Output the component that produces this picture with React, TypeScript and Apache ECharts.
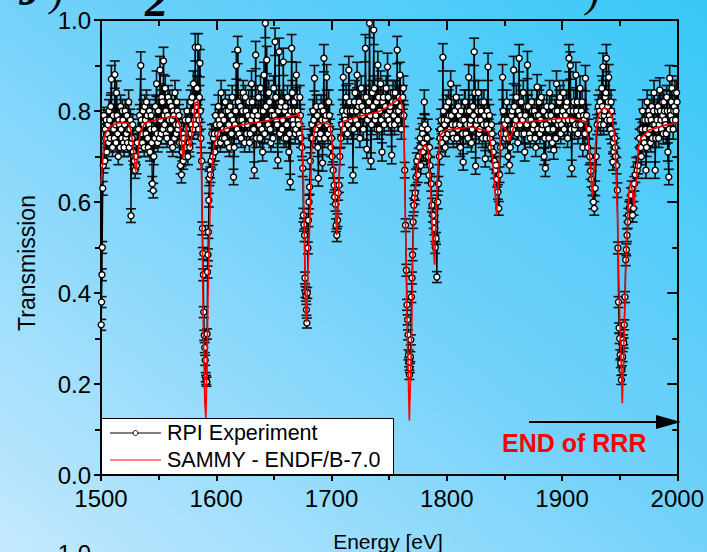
import React, { useEffect, useRef } from "react";
import * as echarts from "echarts";

// Measured transmission points: [energy (eV), transmission, uncertainty]
const expLowEdge: [number, number, number][] = [
  [1500.2, 0.33, 0.012], [1500.5, 0.38, 0.012], [1500.8, 0.44, 0.013], [1501.1, 0.5, 0.013],
  [1501.5, 0.63, 0.015], [1502.0, 0.68, 0.016], [1502.6, 0.79, 0.018], [1503.3, 0.69, 0.016],
  [1504.0, 0.74, 0.02], [1505.0, 0.71, 0.018], [1506.0, 0.77, 0.022], [1507.0, 0.8, 0.025],
  [1508.0, 0.74, 0.02], [1509.0, 0.87, 0.03], [1510.0, 0.72, 0.02], [1511.0, 0.76, 0.022],
  [1512.0, 0.88, 0.03], [1513.0, 0.73, 0.02], [1514.0, 0.79, 0.024], [1515.0, 0.7, 0.018],
  [1516.0, 0.77, 0.022], [1517.0, 0.81, 0.025], [1518.0, 0.74, 0.02], [1519.0, 0.78, 0.024],
  [1520.0, 0.72, 0.02], [1521.0, 0.8, 0.025], [1522.0, 0.75, 0.022], [1523.0, 0.73, 0.02],
  [1524.0, 0.82, 0.026], [1525.0, 0.76, 0.022], [1526.0, 0.57, 0.015], [1527.0, 0.74, 0.02],
  [1528.0, 0.71, 0.02], [1529.0, 0.69, 0.018], [1529.6, 0.67, 0.018], [1530.2, 0.7, 0.018],
  [1530.8, 0.68, 0.018], [1531.5, 0.73, 0.02], [1532.5, 0.76, 0.022], [1533.5, 0.79, 0.024],
  [1534.5, 0.9, 0.03],
  [1503.6, 0.76, 0.02], [1504.5, 0.78, 0.022], [1505.5, 0.75, 0.02], [1506.5, 0.73, 0.02],
  [1507.5, 0.78, 0.022], [1508.5, 0.81, 0.025], [1509.5, 0.76, 0.022], [1510.5, 0.79, 0.024],
  [1511.5, 0.74, 0.02], [1512.5, 0.77, 0.022], [1513.5, 0.84, 0.026], [1514.5, 0.75, 0.022],
  [1515.5, 0.78, 0.024], [1516.5, 0.72, 0.02], [1517.5, 0.76, 0.022], [1518.5, 0.8, 0.025],
  [1519.5, 0.73, 0.02], [1520.5, 0.77, 0.022], [1521.5, 0.74, 0.02], [1522.5, 0.79, 0.024],
  [1523.5, 0.76, 0.022], [1524.5, 0.72, 0.02], [1525.5, 0.78, 0.024], [1526.5, 0.73, 0.02],
  [1527.5, 0.77, 0.022], [1528.5, 0.7, 0.018],
];

const expBelow1590: [number, number, number][] = [
  [1535.5, 0.75, 0.022], [1536.5, 0.8, 0.025], [1537.5, 0.72, 0.02], [1538.5, 0.78, 0.024],
  [1539.5, 0.82, 0.026], [1540.5, 0.74, 0.02], [1541.5, 0.77, 0.022], [1542.5, 0.71, 0.02],
  [1543.5, 0.79, 0.024], [1544.5, 0.64, 0.016], [1545.3, 0.625, 0.016], [1546.2, 0.76, 0.022],
  [1547.2, 0.81, 0.025], [1548.2, 0.86, 0.028], [1549.2, 0.73, 0.02], [1550.2, 0.78, 0.024],
  [1551.2, 0.89, 0.03], [1552.2, 0.75, 0.022], [1553.2, 0.82, 0.026], [1554.2, 0.91, 0.03],
  [1555.2, 0.77, 0.022], [1556.2, 0.8, 0.025], [1557.2, 0.74, 0.02], [1558.2, 0.83, 0.026],
  [1559.2, 0.78, 0.024], [1560.2, 0.76, 0.022], [1561.2, 0.81, 0.025], [1562.2, 0.72, 0.02],
  [1563.2, 0.79, 0.024], [1564.2, 0.84, 0.027], [1565.2, 0.75, 0.022], [1566.2, 0.8, 0.025],
  [1567.2, 0.77, 0.022], [1568.2, 0.73, 0.02], [1569.0, 0.68, 0.018], [1569.8, 0.66, 0.018],
  [1570.6, 0.71, 0.02], [1571.4, 0.69, 0.018], [1572.2, 0.74, 0.02], [1573.0, 0.78, 0.024],
  [1573.8, 0.72, 0.02], [1574.6, 0.8, 0.025], [1575.4, 0.7, 0.018], [1576.2, 0.75, 0.022],
  [1577.0, 0.72, 0.02], [1577.8, 0.82, 0.026], [1578.6, 0.77, 0.022], [1579.4, 0.8, 0.025],
  [1580.2, 0.86, 0.028], [1581.0, 0.78, 0.024], [1581.8, 0.94, 0.03], [1582.6, 0.81, 0.025],
  [1583.4, 0.85, 0.027], [1584.2, 0.94, 0.03], [1585.0, 0.78, 0.024], [1585.8, 0.905, 0.03],
  [1586.6, 0.74, 0.02], [1587.3, 0.69, 0.018],
  [1535.0, 0.78, 0.024], [1536.0, 0.73, 0.02], [1537.0, 0.77, 0.022], [1538.0, 0.81, 0.025],
  [1539.0, 0.75, 0.022], [1540.0, 0.79, 0.024], [1541.0, 0.72, 0.02], [1542.0, 0.8, 0.025],
  [1543.0, 0.76, 0.022], [1544.0, 0.73, 0.02], [1545.8, 0.7, 0.018], [1546.7, 0.74, 0.02],
  [1547.7, 0.78, 0.024], [1548.7, 0.75, 0.022], [1549.7, 0.8, 0.025], [1550.7, 0.74, 0.02],
  [1551.7, 0.78, 0.024], [1552.7, 0.83, 0.026], [1553.7, 0.76, 0.022], [1554.7, 0.79, 0.024],
  [1555.7, 0.85, 0.027], [1556.7, 0.75, 0.022], [1557.7, 0.79, 0.024], [1558.7, 0.76, 0.022],
  [1559.7, 0.82, 0.026], [1560.7, 0.73, 0.02], [1561.7, 0.78, 0.024], [1562.7, 0.8, 0.025],
  [1563.7, 0.74, 0.02], [1564.7, 0.77, 0.022], [1565.7, 0.82, 0.026], [1566.7, 0.76, 0.022],
  [1567.7, 0.79, 0.024], [1570.2, 0.73, 0.02], [1571.8, 0.75, 0.022], [1572.6, 0.7, 0.018],
  [1574.2, 0.76, 0.022], [1575.8, 0.78, 0.024], [1576.6, 0.73, 0.02], [1578.2, 0.75, 0.022],
  [1579.0, 0.83, 0.026], [1579.8, 0.76, 0.022], [1580.6, 0.8, 0.025], [1582.2, 0.77, 0.022],
  [1583.0, 0.82, 0.026], [1583.8, 0.79, 0.024], [1584.6, 0.76, 0.022], [1585.4, 0.83, 0.026],
  [1586.2, 0.8, 0.025],
];

const exp1590Dip: [number, number, number][] = [
  [1588.0, 0.542, 0.014], [1588.4, 0.487, 0.013], [1588.8, 0.44, 0.013], [1589.2, 0.358, 0.012],
  [1589.6, 0.307, 0.011], [1590.0, 0.28, 0.011], [1590.4, 0.252, 0.011], [1590.8, 0.215, 0.01],
  [1591.2, 0.209, 0.01], [1591.6, 0.205, 0.01], [1592.0, 0.31, 0.011], [1592.4, 0.446, 0.013],
  [1592.8, 0.484, 0.013], [1593.2, 0.534, 0.014], [1593.6, 0.604, 0.015], [1594.0, 0.652, 0.016],
  [1594.5, 0.67, 0.017], [1595.0, 0.66, 0.017], [1595.6, 0.69, 0.018], [1596.2, 0.75, 0.02],
];

const expMid: [number, number, number][] = [
  [1597.0, 0.7, 0.018], [1598.2, 0.75, 0.022], [1599.4, 0.79, 0.024], [1600.6, 0.73, 0.02],
  [1601.8, 0.81, 0.025], [1603.0, 0.77, 0.022], [1604.2, 0.84, 0.027], [1605.4, 0.74, 0.02],
  [1606.6, 0.78, 0.024], [1607.8, 0.82, 0.026], [1609.0, 0.76, 0.022], [1610.2, 0.8, 0.025],
  [1611.4, 0.72, 0.02], [1612.6, 0.79, 0.024], [1613.8, 0.83, 0.026], [1615.0, 0.655, 0.017],
  [1616.2, 0.77, 0.022], [1617.4, 0.9, 0.03], [1618.6, 0.934, 0.03], [1619.8, 0.75, 0.022],
  [1621.0, 0.81, 0.025], [1622.2, 0.78, 0.024], [1623.4, 0.84, 0.027], [1624.6, 0.73, 0.02],
  [1625.8, 0.8, 0.025], [1627.0, 0.77, 0.022], [1628.2, 0.82, 0.026], [1629.4, 0.75, 0.022],
  [1630.6, 0.86, 0.028], [1631.8, 0.79, 0.024], [1633.0, 0.67, 0.018], [1634.2, 0.923, 0.03],
  [1635.4, 0.78, 0.024], [1636.6, 0.83, 0.026], [1637.8, 0.74, 0.02], [1639.0, 0.8, 0.025],
  [1640.2, 0.71, 0.02], [1641.4, 0.879, 0.028], [1642.6, 0.993, 0.032], [1643.8, 0.912, 0.03],
  [1645.0, 0.77, 0.022], [1646.2, 0.82, 0.026], [1647.4, 0.73, 0.02], [1648.6, 0.79, 0.024],
  [1649.8, 0.85, 0.027], [1651.0, 0.952, 0.03], [1652.2, 0.78, 0.024], [1653.4, 0.692, 0.018],
  [1654.6, 0.93, 0.03], [1655.8, 0.81, 0.025], [1657.0, 0.76, 0.022], [1658.2, 0.908, 0.03],
  [1659.4, 0.8, 0.025], [1660.6, 0.74, 0.02], [1661.8, 0.83, 0.026], [1663.0, 0.71, 0.02],
  [1664.2, 0.644, 0.017], [1665.4, 0.938, 0.03], [1666.5, 0.78, 0.024], [1667.5, 0.82, 0.026],
  [1668.5, 0.75, 0.022], [1669.5, 0.879, 0.028], [1670.5, 0.8, 0.025], [1671.5, 0.77, 0.022],
  [1672.5, 0.83, 0.026], [1673.5, 0.74, 0.02], [1674.3, 0.72, 0.02], [1675.0, 0.674, 0.018],
  [1597.6, 0.74, 0.02], [1598.8, 0.71, 0.02], [1600.0, 0.77, 0.022], [1601.2, 0.75, 0.022],
  [1602.4, 0.78, 0.024], [1603.6, 0.73, 0.02], [1604.8, 0.79, 0.024], [1606.0, 0.76, 0.022],
  [1607.2, 0.74, 0.02], [1608.4, 0.8, 0.025], [1609.6, 0.73, 0.02], [1610.8, 0.77, 0.022],
  [1612.0, 0.81, 0.025], [1613.2, 0.75, 0.022], [1614.4, 0.78, 0.024], [1615.6, 0.72, 0.02],
  [1616.8, 0.8, 0.025], [1618.0, 0.76, 0.022], [1619.2, 0.82, 0.026], [1620.4, 0.78, 0.024],
  [1621.6, 0.74, 0.02], [1622.8, 0.8, 0.025], [1624.0, 0.77, 0.022], [1625.2, 0.83, 0.026],
  [1626.4, 0.75, 0.022], [1627.6, 0.79, 0.024], [1628.8, 0.73, 0.02], [1630.0, 0.78, 0.024],
  [1631.2, 0.82, 0.026], [1632.4, 0.76, 0.022], [1633.6, 0.8, 0.025], [1634.8, 0.74, 0.02],
  [1636.0, 0.79, 0.024], [1637.2, 0.77, 0.022], [1638.4, 0.85, 0.027], [1639.6, 0.76, 0.022],
  [1640.8, 0.8, 0.025], [1642.0, 0.75, 0.022], [1643.2, 0.81, 0.025], [1644.4, 0.78, 0.024],
  [1645.6, 0.84, 0.027], [1646.8, 0.76, 0.022], [1648.0, 0.8, 0.025], [1649.2, 0.74, 0.02],
  [1650.4, 0.79, 0.024], [1651.6, 0.83, 0.026], [1652.8, 0.77, 0.022], [1654.0, 0.8, 0.025],
  [1655.2, 0.75, 0.022], [1656.4, 0.82, 0.026], [1657.6, 0.78, 0.024], [1658.8, 0.74, 0.02],
  [1660.0, 0.81, 0.025], [1661.2, 0.77, 0.022], [1662.4, 0.79, 0.024], [1663.6, 0.75, 0.022],
  [1664.8, 0.8, 0.025], [1666.0, 0.84, 0.027], [1667.0, 0.77, 0.022], [1668.0, 0.8, 0.025],
  [1669.0, 0.76, 0.022], [1670.0, 0.83, 0.026], [1671.0, 0.78, 0.024], [1672.0, 0.75, 0.022],
  [1673.0, 0.79, 0.024],
];

const exp1678Dip: [number, number, number][] = [
  [1675.6, 0.571, 0.015], [1676.1, 0.55, 0.014], [1676.6, 0.527, 0.014], [1677.0, 0.433, 0.013],
  [1677.4, 0.402, 0.012], [1677.8, 0.394, 0.012], [1678.2, 0.363, 0.012], [1678.6, 0.334, 0.011],
  [1679.0, 0.4, 0.012], [1679.5, 0.499, 0.013], [1680.0, 0.56, 0.014], [1680.5, 0.6, 0.015],
  [1681.0, 0.633, 0.016], [1681.6, 0.69, 0.018], [1682.2, 0.74, 0.02], [1683.0, 0.77, 0.022],
  [1684.0, 0.8, 0.025], [1685.2, 0.872, 0.028], [1686.4, 0.76, 0.022], [1687.6, 0.79, 0.024],
  [1688.6, 0.652, 0.017], [1689.8, 0.74, 0.02], [1691.0, 0.81, 0.025], [1692.2, 0.686, 0.018],
  [1693.4, 0.916, 0.03], [1694.6, 0.78, 0.024], [1695.8, 0.874, 0.028], [1697.0, 0.75, 0.022],
  [1698.2, 0.79, 0.024], [1699.4, 0.72, 0.02], [1700.5, 0.7, 0.018], [1701.4, 0.67, 0.018],
  [1702.2, 0.637, 0.016], [1702.8, 0.611, 0.016], [1703.4, 0.595, 0.015], [1704.0, 0.549, 0.014],
  [1704.6, 0.527, 0.014], [1705.2, 0.56, 0.014], [1705.8, 0.62, 0.016], [1706.5, 0.637, 0.016],
  [1707.2, 0.7, 0.018], [1708.0, 0.74, 0.02],
  [1683.5, 0.74, 0.02], [1684.6, 0.78, 0.024], [1685.8, 0.75, 0.022], [1687.0, 0.81, 0.025],
  [1688.1, 0.72, 0.02], [1689.2, 0.77, 0.022], [1690.4, 0.75, 0.022], [1691.6, 0.78, 0.024],
  [1692.8, 0.8, 0.025], [1694.0, 0.74, 0.02], [1695.2, 0.79, 0.024], [1696.4, 0.77, 0.022],
  [1697.6, 0.82, 0.026], [1698.8, 0.76, 0.022], [1700.0, 0.74, 0.02],
];

const expBelow1767: [number, number, number][] = [
  [1709.0, 0.77, 0.022], [1710.2, 0.874, 0.028], [1711.4, 0.79, 0.024], [1712.6, 0.83, 0.026],
  [1713.8, 0.75, 0.022], [1715.0, 0.89, 0.03], [1716.2, 0.8, 0.025], [1717.4, 0.76, 0.022],
  [1718.6, 0.659, 0.017], [1719.8, 0.82, 0.026], [1721.0, 0.78, 0.024], [1722.2, 0.879, 0.028],
  [1723.4, 0.81, 0.025], [1724.6, 0.74, 0.02], [1725.8, 0.85, 0.027], [1727.0, 0.79, 0.024],
  [1728.2, 0.83, 0.026], [1729.4, 0.938, 0.03], [1730.6, 0.716, 0.02], [1731.8, 0.8, 0.025],
  [1733.0, 0.993, 0.032], [1734.2, 0.69, 0.018], [1735.4, 0.84, 0.027], [1736.6, 0.978, 0.032],
  [1737.8, 0.78, 0.024], [1739.0, 0.82, 0.026], [1740.2, 0.901, 0.03], [1741.4, 0.76, 0.022],
  [1742.6, 0.86, 0.028], [1743.8, 0.71, 0.02], [1745.0, 0.83, 0.026], [1746.2, 0.79, 0.024],
  [1747.4, 0.85, 0.027], [1748.6, 0.897, 0.03], [1749.8, 0.78, 0.024], [1751.0, 0.81, 0.025],
  [1752.2, 0.703, 0.019], [1753.4, 0.84, 0.027], [1754.6, 0.77, 0.022], [1755.8, 0.82, 0.026],
  [1757.0, 0.934, 0.03], [1758.2, 0.8, 0.025], [1759.4, 0.879, 0.028], [1760.6, 0.76, 0.022],
  [1761.8, 0.83, 0.026], [1762.8, 0.79, 0.024],
  [1709.6, 0.8, 0.025], [1710.8, 0.76, 0.022], [1712.0, 0.78, 0.024], [1713.2, 0.8, 0.025],
  [1714.4, 0.77, 0.022], [1715.6, 0.82, 0.026], [1716.8, 0.78, 0.024], [1718.0, 0.8, 0.025],
  [1719.2, 0.76, 0.022], [1720.4, 0.84, 0.027], [1721.6, 0.8, 0.025], [1722.8, 0.77, 0.022],
  [1724.0, 0.82, 0.026], [1725.2, 0.79, 0.024], [1726.4, 0.81, 0.025], [1727.6, 0.76, 0.022],
  [1728.8, 0.8, 0.025], [1730.0, 0.83, 0.026], [1731.2, 0.78, 0.024], [1732.4, 0.82, 0.026],
  [1733.6, 0.79, 0.024], [1734.8, 0.77, 0.022], [1736.0, 0.81, 0.025], [1737.2, 0.85, 0.027],
  [1738.4, 0.79, 0.024], [1739.6, 0.76, 0.022], [1740.8, 0.83, 0.026], [1742.0, 0.8, 0.025],
  [1743.2, 0.78, 0.024], [1744.4, 0.82, 0.026], [1745.6, 0.77, 0.022], [1746.8, 0.81, 0.025],
  [1748.0, 0.79, 0.024], [1749.2, 0.83, 0.026], [1750.4, 0.8, 0.025], [1751.6, 0.77, 0.022],
  [1752.8, 0.82, 0.026], [1754.0, 0.79, 0.024], [1755.2, 0.84, 0.027], [1756.4, 0.8, 0.025],
  [1757.6, 0.78, 0.024], [1758.8, 0.83, 0.026], [1760.0, 0.81, 0.025], [1761.2, 0.79, 0.024],
  [1762.4, 0.85, 0.027],
];

const exp1767Dip: [number, number, number][] = [
  [1763.5, 0.67, 0.017], [1764.2, 0.549, 0.014], [1764.9, 0.45, 0.013], [1765.5, 0.374, 0.012],
  [1766.0, 0.341, 0.011], [1766.4, 0.308, 0.011], [1766.8, 0.264, 0.011], [1767.2, 0.248, 0.01],
  [1767.6, 0.22, 0.01], [1768.0, 0.235, 0.01], [1768.4, 0.26, 0.011], [1768.8, 0.297, 0.011],
  [1769.3, 0.391, 0.012], [1769.8, 0.433, 0.013], [1770.3, 0.484, 0.013], [1770.8, 0.556, 0.014],
  [1771.4, 0.593, 0.015], [1772.0, 0.61, 0.015], [1772.6, 0.62, 0.016], [1773.3, 0.655, 0.017],
  [1774.0, 0.69, 0.018], [1774.8, 0.66, 0.017], [1775.6, 0.7, 0.018], [1776.5, 0.72, 0.02],
  [1777.5, 0.68, 0.018], [1778.5, 0.762, 0.022], [1779.5, 0.71, 0.02], [1780.5, 0.82, 0.026],
  [1781.5, 0.74, 0.02], [1782.5, 0.7, 0.018], [1783.5, 0.76, 0.022], [1784.5, 0.659, 0.017],
  [1785.5, 0.68, 0.018], [1786.5, 0.64, 0.016], [1787.2, 0.593, 0.015], [1787.9, 0.571, 0.015],
  [1788.6, 0.556, 0.014], [1789.3, 0.542, 0.014], [1790.0, 0.5, 0.013], [1790.7, 0.52, 0.013],
  [1791.4, 0.435, 0.012], [1792.1, 0.6, 0.015], [1792.8, 0.64, 0.016],
  [1777.0, 0.74, 0.02], [1778.0, 0.71, 0.02], [1779.0, 0.75, 0.022], [1780.0, 0.73, 0.02],
  [1781.0, 0.77, 0.022], [1782.0, 0.72, 0.02], [1783.0, 0.74, 0.02], [1784.0, 0.7, 0.018],
  [1785.0, 0.72, 0.02],
];

const expBelow1843: [number, number, number][] = [
  [1793.6, 0.7, 0.018], [1794.6, 0.76, 0.022], [1795.6, 0.73, 0.02], [1796.6, 0.918, 0.03],
  [1797.6, 0.78, 0.024], [1798.6, 0.72, 0.02], [1799.8, 0.81, 0.025], [1801.0, 0.75, 0.022],
  [1802.2, 0.79, 0.024], [1803.4, 0.86, 0.028], [1804.6, 0.77, 0.022], [1805.8, 0.74, 0.02],
  [1807.0, 0.8, 0.025], [1808.2, 0.83, 0.026], [1809.4, 0.76, 0.022], [1810.6, 0.79, 0.024],
  [1811.8, 0.72, 0.02], [1813.0, 0.78, 0.024], [1814.2, 0.688, 0.018], [1815.4, 0.82, 0.026],
  [1816.6, 0.75, 0.022], [1817.8, 0.8, 0.025], [1819.0, 0.874, 0.028], [1820.2, 0.77, 0.022],
  [1821.4, 0.73, 0.02], [1822.6, 0.81, 0.025], [1823.8, 0.93, 0.03], [1825.0, 0.679, 0.018],
  [1826.2, 0.78, 0.024], [1827.4, 0.84, 0.027], [1828.6, 0.76, 0.022], [1829.8, 0.8, 0.025],
  [1831.0, 0.74, 0.02], [1832.2, 0.82, 0.026], [1833.4, 0.695, 0.018], [1834.6, 0.77, 0.022],
  [1835.8, 0.897, 0.03], [1837.0, 0.79, 0.024], [1838.2, 0.72, 0.02], [1839.4, 0.75, 0.022],
  [1840.4, 0.71, 0.02], [1841.2, 0.69, 0.018], [1842.0, 0.67, 0.018], [1842.8, 0.681, 0.018],
  [1843.6, 0.65, 0.017], [1844.4, 0.622, 0.016], [1845.1, 0.586, 0.015], [1845.8, 0.66, 0.017],
  [1846.6, 0.72, 0.02], [1847.4, 0.75, 0.022],
  [1794.1, 0.74, 0.02], [1795.1, 0.78, 0.024], [1796.1, 0.75, 0.022], [1797.1, 0.8, 0.025],
  [1798.1, 0.77, 0.022], [1799.2, 0.74, 0.02], [1800.4, 0.78, 0.024], [1801.6, 0.82, 0.026],
  [1802.8, 0.76, 0.022], [1804.0, 0.79, 0.024], [1805.2, 0.75, 0.022], [1806.4, 0.8, 0.025],
  [1807.6, 0.77, 0.022], [1808.8, 0.74, 0.02], [1810.0, 0.81, 0.025], [1811.2, 0.77, 0.022],
  [1812.4, 0.8, 0.025], [1813.6, 0.75, 0.022], [1814.8, 0.78, 0.024], [1816.0, 0.82, 0.026],
  [1817.2, 0.77, 0.022], [1818.4, 0.74, 0.02], [1819.6, 0.8, 0.025], [1820.8, 0.78, 0.024],
  [1822.0, 0.76, 0.022], [1823.2, 0.79, 0.024], [1824.4, 0.84, 0.027], [1825.6, 0.77, 0.022],
  [1826.8, 0.8, 0.025], [1828.0, 0.75, 0.022], [1829.2, 0.78, 0.024], [1830.4, 0.82, 0.026],
  [1831.6, 0.77, 0.022], [1832.8, 0.79, 0.024], [1834.0, 0.74, 0.02], [1835.2, 0.8, 0.025],
  [1836.4, 0.76, 0.022], [1837.6, 0.74, 0.02], [1838.8, 0.77, 0.022], [1839.9, 0.73, 0.02],
];

const expUpper: [number, number, number][] = [
  [1848.4, 0.874, 0.028], [1849.6, 0.78, 0.024], [1850.8, 0.74, 0.02], [1852.0, 0.82, 0.026],
  [1853.2, 0.7, 0.018], [1854.4, 0.681, 0.018], [1855.6, 0.76, 0.022], [1856.8, 0.8, 0.025],
  [1858.0, 0.89, 0.03], [1859.2, 0.77, 0.022], [1860.4, 0.83, 0.026], [1861.6, 0.73, 0.02],
  [1862.8, 0.916, 0.03], [1864.0, 0.79, 0.024], [1865.2, 0.75, 0.022], [1866.4, 0.84, 0.027],
  [1867.6, 0.71, 0.02], [1868.8, 0.81, 0.025], [1870.0, 0.901, 0.03], [1871.2, 0.78, 0.024],
  [1872.4, 0.74, 0.02], [1873.6, 0.82, 0.026], [1874.8, 0.76, 0.022], [1876.0, 0.8, 0.025],
  [1877.2, 0.72, 0.02], [1878.4, 0.853, 0.027], [1879.6, 0.79, 0.024], [1880.8, 0.75, 0.022],
  [1882.0, 0.83, 0.026], [1883.2, 0.77, 0.022], [1884.4, 0.7, 0.018], [1885.6, 0.674, 0.018],
  [1886.8, 0.81, 0.025], [1888.0, 0.76, 0.022], [1889.2, 0.84, 0.027], [1890.4, 0.79, 0.024],
  [1891.6, 0.73, 0.02], [1892.8, 0.714, 0.02], [1894.0, 0.8, 0.025], [1895.2, 0.86, 0.028],
  [1896.4, 0.77, 0.022], [1897.6, 0.82, 0.026], [1898.8, 0.75, 0.022], [1900.0, 0.79, 0.024],
  [1901.2, 0.84, 0.027], [1902.4, 0.78, 0.024], [1903.6, 0.81, 0.025], [1904.8, 0.74, 0.02],
  [1906.0, 0.916, 0.03], [1907.2, 0.9, 0.03], [1908.4, 0.674, 0.018], [1909.6, 0.8, 0.025],
  [1910.8, 0.76, 0.022], [1912.0, 0.879, 0.028], [1913.2, 0.82, 0.026], [1914.4, 0.77, 0.022],
  [1915.6, 0.85, 0.027], [1916.8, 0.8, 0.025], [1918.0, 0.72, 0.02], [1919.2, 0.78, 0.024],
  [1920.3, 0.872, 0.028], [1921.3, 0.79, 0.024], [1922.3, 0.72, 0.02], [1923.2, 0.76, 0.022],
  [1924.0, 0.7, 0.018], [1924.8, 0.668, 0.018], [1925.6, 0.65, 0.017], [1926.4, 0.63, 0.016],
  [1927.2, 0.6, 0.015], [1928.0, 0.586, 0.015], [1928.8, 0.63, 0.016], [1929.6, 0.7, 0.018],
  [1930.5, 0.77, 0.022], [1931.5, 0.81, 0.025], [1932.5, 0.8, 0.025], [1933.5, 0.77, 0.022],
  [1934.5, 0.85, 0.027], [1935.5, 0.897, 0.03], [1936.5, 0.79, 0.024], [1937.5, 0.83, 0.026],
  [1938.5, 0.916, 0.03], [1939.5, 0.81, 0.025], [1940.5, 0.874, 0.028], [1941.5, 0.78, 0.024],
  [1942.5, 0.82, 0.026], [1943.3, 0.75, 0.022], [1944.1, 0.688, 0.018], [1944.9, 0.71, 0.02],
  [1945.7, 0.74, 0.02], [1946.5, 0.7, 0.018], [1947.3, 0.68, 0.018],
  [1849.0, 0.8, 0.025], [1850.2, 0.77, 0.022], [1851.4, 0.75, 0.022], [1852.6, 0.78, 0.024],
  [1853.8, 0.74, 0.02], [1855.0, 0.72, 0.02], [1856.2, 0.79, 0.024], [1857.4, 0.76, 0.022],
  [1858.6, 0.81, 0.025], [1859.8, 0.78, 0.024], [1861.0, 0.75, 0.022], [1862.2, 0.8, 0.025],
  [1863.4, 0.77, 0.022], [1864.6, 0.82, 0.026], [1865.8, 0.78, 0.024], [1867.0, 0.75, 0.022],
  [1868.2, 0.79, 0.024], [1869.4, 0.77, 0.022], [1870.6, 0.81, 0.025], [1871.8, 0.75, 0.022],
  [1873.0, 0.78, 0.024], [1874.2, 0.8, 0.025], [1875.4, 0.77, 0.022], [1876.6, 0.74, 0.02],
  [1877.8, 0.79, 0.024], [1879.0, 0.76, 0.022], [1880.2, 0.82, 0.026], [1881.4, 0.78, 0.024],
  [1882.6, 0.76, 0.022], [1883.8, 0.8, 0.025], [1885.0, 0.74, 0.02], [1886.2, 0.77, 0.022],
  [1887.4, 0.79, 0.024], [1888.6, 0.74, 0.02], [1889.8, 0.78, 0.024], [1891.0, 0.81, 0.025],
  [1892.2, 0.76, 0.022], [1893.4, 0.78, 0.024], [1894.6, 0.74, 0.02], [1895.8, 0.8, 0.025],
  [1897.0, 0.78, 0.024], [1898.2, 0.83, 0.026], [1899.4, 0.77, 0.022], [1900.6, 0.8, 0.025],
  [1901.8, 0.76, 0.022], [1903.0, 0.79, 0.024], [1904.2, 0.82, 0.026], [1905.4, 0.78, 0.024],
  [1906.6, 0.8, 0.025], [1907.8, 0.76, 0.022], [1909.0, 0.78, 0.024], [1910.2, 0.82, 0.026],
  [1911.4, 0.77, 0.022], [1912.6, 0.8, 0.025], [1913.8, 0.75, 0.022], [1915.0, 0.79, 0.024],
  [1916.2, 0.77, 0.022], [1917.4, 0.82, 0.026], [1918.6, 0.79, 0.024], [1919.8, 0.75, 0.022],
  [1932.0, 0.78, 0.024], [1933.0, 0.82, 0.026], [1934.0, 0.79, 0.024], [1935.0, 0.81, 0.025],
  [1936.0, 0.77, 0.022], [1937.0, 0.8, 0.025], [1938.0, 0.84, 0.027], [1939.0, 0.78, 0.024],
  [1940.0, 0.82, 0.026], [1941.0, 0.79, 0.024], [1942.0, 0.76, 0.022], [1943.0, 0.8, 0.025],
  [1944.5, 0.73, 0.02], [1946.1, 0.72, 0.02],
];

const exp1952Dip: [number, number, number][] = [
  [1948.0, 0.626, 0.016], [1948.5, 0.499, 0.013], [1949.0, 0.38, 0.012], [1949.5, 0.323, 0.011],
  [1950.0, 0.3, 0.011], [1950.5, 0.264, 0.011], [1951.0, 0.246, 0.01], [1951.5, 0.209, 0.01],
  [1952.0, 0.23, 0.01], [1952.5, 0.26, 0.011], [1953.0, 0.297, 0.011], [1953.5, 0.29, 0.011],
  [1954.0, 0.33, 0.011], [1954.6, 0.391, 0.012], [1955.2, 0.473, 0.013], [1955.8, 0.495, 0.013],
  [1956.4, 0.527, 0.014], [1957.0, 0.556, 0.014], [1957.6, 0.571, 0.015], [1958.3, 0.586, 0.015],
  [1959.0, 0.59, 0.015], [1959.7, 0.615, 0.016], [1960.4, 0.63, 0.016], [1961.2, 0.571, 0.015],
  [1962.0, 0.586, 0.015], [1962.8, 0.64, 0.016], [1963.6, 0.66, 0.017], [1964.4, 0.68, 0.018],
  [1965.2, 0.67, 0.018], [1966.0, 0.68, 0.018],
];

const expHighEdge: [number, number, number][] = [
  [1966.8, 0.72, 0.02], [1967.8, 0.76, 0.022], [1968.8, 0.7, 0.018], [1969.8, 0.8, 0.025],
  [1970.8, 0.74, 0.02], [1971.8, 0.78, 0.024], [1972.8, 0.67, 0.018], [1973.8, 0.82, 0.026],
  [1974.8, 0.75, 0.022], [1975.8, 0.79, 0.024], [1976.8, 0.73, 0.02], [1977.8, 0.81, 0.025],
  [1978.8, 0.77, 0.022], [1979.8, 0.84, 0.027], [1980.8, 0.67, 0.018], [1981.8, 0.76, 0.022],
  [1982.8, 0.8, 0.025], [1983.8, 0.74, 0.02], [1984.8, 0.846, 0.027], [1985.8, 0.78, 0.024],
  [1986.8, 0.82, 0.026], [1987.8, 0.75, 0.022], [1988.8, 0.8, 0.025], [1989.8, 0.77, 0.022],
  [1990.8, 0.83, 0.026], [1991.8, 0.71, 0.02], [1992.6, 0.655, 0.017], [1993.4, 0.872, 0.028],
  [1994.4, 0.79, 0.024], [1995.4, 0.85, 0.027], [1996.4, 0.76, 0.022], [1997.4, 0.81, 0.025],
  [1998.4, 0.78, 0.024], [1999.4, 0.84, 0.027],
  [1967.3, 0.74, 0.02], [1968.3, 0.72, 0.02], [1969.3, 0.76, 0.022], [1970.3, 0.78, 0.024],
  [1971.3, 0.73, 0.02], [1972.3, 0.76, 0.022], [1973.3, 0.72, 0.02], [1974.3, 0.78, 0.024],
  [1975.3, 0.8, 0.025], [1976.3, 0.76, 0.022], [1977.3, 0.78, 0.024], [1978.3, 0.74, 0.02],
  [1979.3, 0.8, 0.025], [1980.3, 0.77, 0.022], [1981.3, 0.74, 0.02], [1982.3, 0.78, 0.024],
  [1983.3, 0.81, 0.025], [1984.3, 0.77, 0.022], [1985.3, 0.8, 0.025], [1986.3, 0.76, 0.022],
  [1987.3, 0.79, 0.024], [1988.3, 0.82, 0.026], [1989.3, 0.78, 0.024], [1990.3, 0.75, 0.022],
  [1991.3, 0.8, 0.025], [1993.0, 0.76, 0.022], [1993.9, 0.8, 0.025], [1994.9, 0.82, 0.026],
  [1995.9, 0.78, 0.024], [1996.9, 0.8, 0.025], [1997.9, 0.84, 0.027], [1998.9, 0.8, 0.025],
  [1999.8, 0.82, 0.026],
];

// SAMMY fit with ENDF/B-7.0 resonance parameters: [energy (eV), transmission]
const sammyFit: [number, number][] = [
  [1500, 0.64], [1503.2, 0.747], [1507.5, 0.765], [1514.7, 0.774], [1523.4, 0.774], [1526, 0.758],
  [1528, 0.72], [1529.2, 0.689], [1530.1, 0.667], [1531.5, 0.69], [1533.5, 0.747], [1537.9, 0.774],
  [1555.2, 0.785], [1565, 0.788], [1568.2, 0.769], [1570, 0.73], [1571.1, 0.697], [1572.5, 0.72],
  [1573.9, 0.77], [1576, 0.733], [1577.7, 0.72], [1579.7, 0.77], [1581.7, 0.817], [1584, 0.822],
  [1585.8, 0.77], [1587.3, 0.645], [1588.6, 0.35], [1590.1, 0.16], [1591, 0.125], [1592, 0.25],
  [1593, 0.42], [1594.5, 0.571], [1595.7, 0.66], [1598, 0.725], [1602, 0.755], [1612, 0.765],
  [1625, 0.771], [1638, 0.776], [1651, 0.782], [1664, 0.788], [1669.8, 0.791], [1671.3, 0.796],
  [1674.2, 0.77], [1675.6, 0.645], [1677.6, 0.35], [1678.5, 0.336], [1679.5, 0.45], [1681.4, 0.57],
  [1682.8, 0.72], [1685.7, 0.762], [1688.6, 0.771], [1694.4, 0.774], [1698.7, 0.769], [1700.2, 0.74],
  [1702.5, 0.645], [1704.5, 0.527], [1706.5, 0.645], [1708.2, 0.747], [1710.3, 0.777], [1723.3, 0.788],
  [1740.6, 0.798], [1749.3, 0.81], [1755, 0.82], [1759.7, 0.831], [1762.6, 0.791], [1764.1, 0.571],
  [1765.4, 0.352], [1767.5, 0.12], [1769.3, 0.28], [1771.2, 0.571], [1774.1, 0.674], [1778.4, 0.718],
  [1781.4, 0.725], [1783.6, 0.718], [1785.7, 0.645], [1787.9, 0.512], [1789.4, 0.462], [1790.6, 0.571],
  [1792.3, 0.681], [1794.4, 0.747], [1798.7, 0.758], [1821.8, 0.765], [1836.5, 0.755], [1839.5, 0.703],
  [1841.7, 0.63], [1843.2, 0.571], [1844.7, 0.645], [1846.1, 0.718], [1847.5, 0.769], [1849.5, 0.765],
  [1852.4, 0.755], [1854.4, 0.734], [1856.8, 0.755], [1859.6, 0.773], [1877, 0.778], [1905.8, 0.785],
  [1920.5, 0.777], [1922.9, 0.733], [1924.9, 0.674], [1926.3, 0.612], [1928.1, 0.681], [1929.8, 0.762],
  [1932.1, 0.795], [1936.5, 0.807], [1940.8, 0.802], [1943.7, 0.785], [1946, 0.733], [1948, 0.571],
  [1950, 0.352], [1952.3, 0.158], [1954.3, 0.352], [1955.8, 0.499], [1958.1, 0.623], [1959.5, 0.645],
  [1961, 0.623], [1962.4, 0.59], [1964.4, 0.645], [1966.2, 0.718], [1968.2, 0.74], [1975.5, 0.758],
  [1989.8, 0.769], [2000, 0.774],
];

const energyTicks = { min: 1500, max: 2000, step: 100 };
const transmissionTicks = { min: 0, max: 1, step: 0.2 };

// all measured points, ordered by energy so the connecting line runs left to right
const experiment = [
  ...expLowEdge, ...expBelow1590, ...exp1590Dip, ...expMid, ...exp1678Dip,
  ...expBelow1767, ...exp1767Dip, ...expBelow1843, ...expUpper, ...exp1952Dip, ...expHighEdge,
].sort((a, b) => a[0] - b[0]);

const SANS = '"Liberation Sans", Arial, Helvetica, sans-serif';
const SERIF = '"Liberation Serif", "Times New Roman", serif';

export default function App() {
  const ref = useRef<HTMLDivElement>(null);

  useEffect(() => {
    document.body.style.margin = "0";
    if (!ref.current) return;
    const chart = echarts.init(ref.current, undefined, { renderer: "svg" });

    const frameLine = { show: true, onZero: false, lineStyle: { color: "#000", width: 2 } };

    chart.setOption({
      animation: false,
      backgroundColor: new echarts.graphic.LinearGradient(0, 1, 1, 0, [
        { offset: 0, color: "#c4e9fe" },
        { offset: 0.5, color: "#74d2fa" },
        { offset: 1, color: "#38c8f8" },
      ]),
      grid: { left: 101, right: 29, top: 20, bottom: 77, containLabel: false },
      xAxis: [
        {
          type: "value", position: "bottom",
          min: energyTicks.min, max: energyTicks.max, interval: energyTicks.step,
          axisLine: frameLine,
          axisTick: { show: true, inside: false, length: 6, lineStyle: { color: "#000", width: 2 } },
          minorTick: { show: true, splitNumber: 2, length: 5, lineStyle: { color: "#000", width: 2 } },
          axisLabel: {
            color: "#000", fontSize: 24, fontFamily: SANS, margin: 11,
            formatter: (v: number) => String(v),
          },
          splitLine: { show: false },
        },
        {
          type: "value", position: "top",
          min: energyTicks.min, max: energyTicks.max, interval: energyTicks.step,
          axisLine: frameLine,
          axisTick: { show: true, inside: true, length: 10, lineStyle: { color: "#000", width: 2 } },
          minorTick: { show: true, splitNumber: 2, length: 6, lineStyle: { color: "#000", width: 2 } },
          axisLabel: { show: false },
          splitLine: { show: false },
        },
      ],
      yAxis: [
        {
          type: "value", position: "left",
          min: transmissionTicks.min, max: transmissionTicks.max, interval: transmissionTicks.step,
          axisLine: frameLine,
          axisTick: { show: true, inside: false, length: 7, lineStyle: { color: "#000", width: 2 } },
          minorTick: { show: true, splitNumber: 2, length: 6, lineStyle: { color: "#000", width: 2 } },
          axisLabel: {
            color: "#000", fontSize: 24, fontFamily: SANS, margin: 10,
            formatter: (v: number) => v.toFixed(1),
          },
          splitLine: { show: false },
        },
        {
          type: "value", position: "right",
          min: transmissionTicks.min, max: transmissionTicks.max, interval: transmissionTicks.step,
          axisLine: frameLine,
          axisTick: { show: true, inside: true, length: 10, lineStyle: { color: "#000", width: 2 } },
          minorTick: { show: true, splitNumber: 2, length: 5, lineStyle: { color: "#000", width: 2 } },
          axisLabel: { show: false },
          splitLine: { show: false },
        },
      ],
      series: [
        {
          name: "error bars",
          type: "custom",
          xAxisIndex: 0, yAxisIndex: 0,
          clip: true,
          z: 2,
          data: experiment,
          encode: { x: 0, y: 1 },
          renderItem: (_params: any, api: any) => {
            const e = api.value(0);
            const t = api.value(1);
            const d = api.value(2);
            const hi = api.coord([e, t + d]);
            const lo = api.coord([e, t - d]);
            const hw = 5;
            const s = { stroke: "#111", lineWidth: 1.6 };
            return {
              type: "group",
              children: [
                { type: "line", shape: { x1: hi[0], y1: hi[1], x2: lo[0], y2: lo[1] }, style: s },
                { type: "line", shape: { x1: hi[0] - hw, y1: hi[1], x2: hi[0] + hw, y2: hi[1] }, style: s },
                { type: "line", shape: { x1: lo[0] - hw, y1: lo[1], x2: lo[0] + hw, y2: lo[1] }, style: s },
              ],
            };
          },
        },
        {
          name: "RPI Experiment",
          type: "line",
          xAxisIndex: 0, yAxisIndex: 0,
          z: 3,
          data: experiment.map((p) => [p[0], p[1]]),
          lineStyle: { color: "#000", width: 1.3 },
          symbol: "circle",
          symbolSize: 6,
          itemStyle: { color: "#fff", borderColor: "#000", borderWidth: 1.4 },
          emphasis: { disabled: true },
        },
        {
          name: "SAMMY - ENDF/B-7.0",
          type: "line",
          xAxisIndex: 0, yAxisIndex: 0,
          z: 4,
          data: sammyFit,
          showSymbol: false,
          lineStyle: { color: "#ff0000", width: 1.6 },
          emphasis: { disabled: true },
        },
      ],
      graphic: [
        // remnants of the heading above the plot
        { type: "text", x: 19, y: -12, z: 50, style: { text: "J", font: `italic bold 48px ${SERIF}`, fill: "#000", verticalAlign: "middle" } },
        { type: "text", x: 50, y: -8, z: 50, style: { text: ")", font: `italic 40px ${SERIF}`, fill: "#000", verticalAlign: "middle" } },
        { type: "text", x: 145, y: 0, z: 50, style: { text: "2", font: `italic bold 46px ${SERIF}`, fill: "#000", verticalAlign: "middle" } },
        { type: "text", x: 586, y: -7, z: 50, style: { text: ")", font: `italic 40px ${SERIF}`, fill: "#000", verticalAlign: "middle" } },
        // axis titles
        { type: "text", x: 27, y: 263, rotation: Math.PI / 2, z: 50, style: { text: "Transmission", font: `23px ${SANS}`, fill: "#000", align: "center", verticalAlign: "middle" } },
        { type: "text", x: 388, y: 541, z: 50, style: { text: "Energy [eV]", font: `21px ${SANS}`, fill: "#000", align: "center", verticalAlign: "middle" } },
        // top label of the next panel
        { type: "text", x: 91, y: 541, z: 50, style: { text: "1.0", font: `24px ${SANS}`, fill: "#000", align: "right", verticalAlign: "top" } },
        // legend
        { type: "rect", z: 60, shape: { x: 101.5, y: 418.5, width: 292, height: 56 }, style: { fill: "#fff", stroke: "#000", lineWidth: 1 } },
        { type: "line", z: 61, shape: { x1: 110, y1: 433, x2: 161, y2: 433 }, style: { stroke: "#000", lineWidth: 1 } },
        { type: "circle", z: 62, shape: { cx: 135.5, cy: 433, r: 2.5 }, style: { fill: "#fff", stroke: "#000", lineWidth: 1 } },
        { type: "text", x: 167, y: 433, z: 61, style: { text: "RPI Experiment", font: `21.5px ${SANS}`, fill: "#000", verticalAlign: "middle" } },
        { type: "line", z: 61, shape: { x1: 110, y1: 460, x2: 161, y2: 460 }, style: { stroke: "#ff0000", lineWidth: 1 } },
        { type: "text", x: 167, y: 460, z: 61, style: { text: "SAMMY - ENDF/B-7.0", font: `21.5px ${SANS}`, fill: "#000", verticalAlign: "middle" } },
        // end-of-resolved-range marker
        { type: "line", z: 55, shape: { x1: 529, y1: 422, x2: 662, y2: 422 }, style: { stroke: "#000", lineWidth: 2 } },
        { type: "polygon", z: 55, shape: { points: [[656, 415], [681, 422], [656, 429]] }, style: { fill: "#000" } },
        { type: "text", x: 502, y: 443, z: 55, style: { text: "END of RRR", font: `bold 25px ${SANS}`, fill: "#ff0000", verticalAlign: "middle" } },
      ],
    });

    return () => chart.dispose();
  }, []);

  return <div ref={ref} style={{ width: 707, height: 552 }} />;
}
